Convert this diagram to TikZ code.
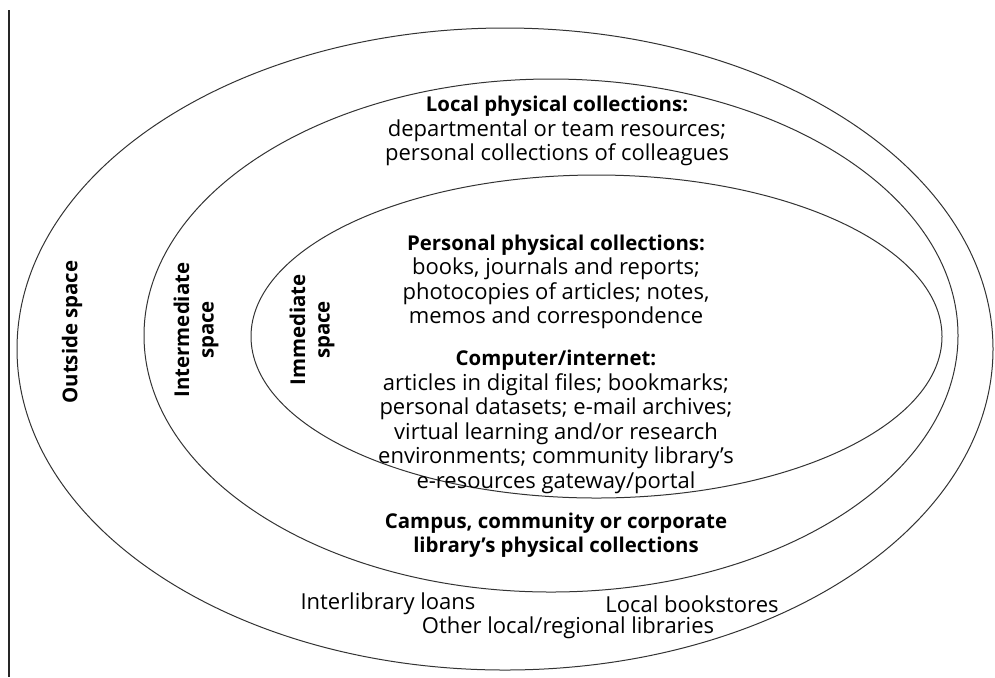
\documentclass[tikz,border=0pt]{standalone}
\usepackage{fontspec}
\setmainfont{Open Sans}
\usepackage{xcolor}

\begin{document}
\begin{tikzpicture}[x=0.5pt,
					y=-0.5pt,
					thick,
					ring/.style={draw=black!80,line width=0.5pt},
					txt/.style={align=center,inner sep=0pt,font=\fontsize{11}{12.25}\selectfont},
					hd/.style={txt,font=\fontsize{10.2}{12.25}\selectfont\bfseries},
					space/.style={hd,rotate=90}]

  \useasboundingbox (0,0) rectangle (995,677);
  \draw[line width=0.6pt,black!85] (9,10) -- (9,677);

  % the three spaces
  \draw[ring] (505,349) ellipse [x radius=244pt,y radius=160.5pt];
  \draw[ring] (551,335.5) ellipse [x radius=203.5pt,y radius=128.25pt];
  \draw[ring] (596.5,336.5) ellipse [x radius=172.75pt,y radius=80.75pt];

  \node[space] (outside) at (72,332) {Outside space};
  \node[space] (inter) at (196,330) {Intermediate\\space};
  \node[space] (immed) at (312,330) {Immediate\\space};

  \node[txt] (local) at (557,131) {{\fontsize{10.2}{12.25}\selectfont\bfseries Local physical collections:}\\
    departmental or team resources;\\personal collections of colleagues};
  \node[txt] (personal) at (556,282) {{\fontsize{10.2}{12.25}\selectfont\bfseries Personal physical collections:}\\
    books, journals and reports;\\photocopies of articles; notes,\\memos and correspondence};
  \node[txt] (computer) at (556,422) {{\fontsize{10.2}{12.25}\selectfont\bfseries Computer/internet:}\\
    articles in digital files; bookmarks;\\personal datasets; e-mail archives;\\
    virtual learning and/or research\\environments; community library's\\
    e-resources gateway/portal};
  \node[hd] (campus) at (556,535)
    {Campus, community or corporate\\library's physical collections};

  \node[txt] (ill) at (388,604) {Interlibrary loans};
  \node[txt] (shops) at (692,604) {Local bookstores};
  \node[txt] (other) at (568,628) {Other local/regional libraries};
\end{tikzpicture}
\end{document}
